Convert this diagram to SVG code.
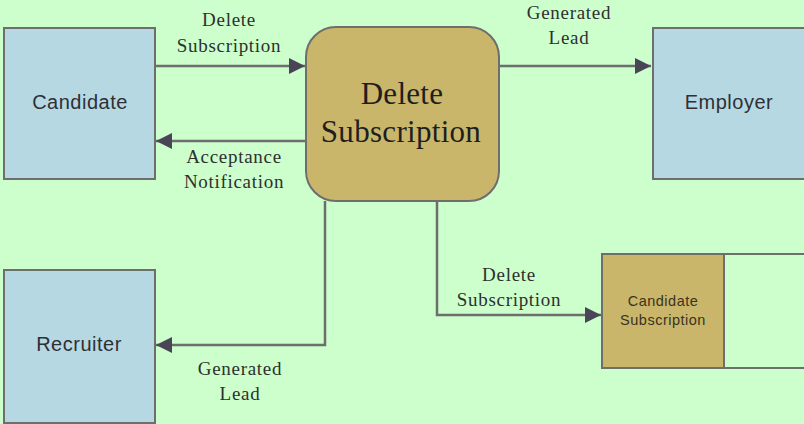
<svg xmlns="http://www.w3.org/2000/svg" width="804" height="424" viewBox="0 0 804 424">
<style>
.ext{fill:#b6d8e2;stroke:#6e6e6e;stroke-width:2}
.proc{fill:#c9b66a;stroke:#6e6e6e;stroke-width:2}
.ds{fill:none;stroke:#6e6e6e;stroke-width:2}
.ent{font-family:"Liberation Sans",Arial,sans-serif;font-size:20px;letter-spacing:0.5px;fill:#2f2f35;text-anchor:middle}
.lbl{font-family:"Liberation Serif","Times New Roman",serif;font-size:19px;letter-spacing:0.7px;fill:#2f2f2f;text-anchor:middle}
.big{font-family:"Liberation Serif","Times New Roman",serif;font-size:31px;letter-spacing:0.3px;fill:#1e1e1e;text-anchor:middle}
.small{font-family:"Liberation Sans",Arial,sans-serif;font-size:14.5px;letter-spacing:0.5px;fill:#3a3320;text-anchor:middle}
.flow{fill:none;stroke:#6e6e6e;stroke-width:2.5}
</style>
<defs>
<marker id="ah" viewBox="0 0 10 10" refX="10" refY="5" markerWidth="22" markerHeight="16" markerUnits="userSpaceOnUse" orient="auto">
<path d="M0,0 L10,5 L0,10 z" fill="#4a4556"/>
</marker>
</defs>
<rect width="804" height="424" fill="#ccffcc"/>
<g id="candidate"><rect class="ext" x="4" y="28" width="151" height="151"/><text class="ent" x="80" y="109">Candidate</text></g>
<g id="employer"><rect class="ext" x="653" y="28" width="152" height="151"/><text class="ent" x="729" y="109">Employer</text></g>
<g id="recruiter"><rect class="ext" x="4" y="270" width="151" height="153"/><text class="ent" x="79" y="351">Recruiter</text></g>
<g id="delete-subscription"><rect class="proc" x="306" y="27" width="193" height="174" rx="30" ry="30"/><text class="big" x="402" y="104">Delete</text><text class="big" x="401" y="142">Subscription</text></g>
<g id="candidate-subscription"><path class="ds" d="M805,254 H602 V368 H805"/><rect class="proc" x="602" y="254" width="122" height="114"/><text class="small" x="663" y="306">Candidate</text><text class="small" x="663" y="325">Subscription</text></g>
<g id="connectors">
<line class="flow" x1="155" y1="66" x2="305" y2="66" marker-end="url(#ah)"/>
<line class="flow" x1="306" y1="141" x2="156" y2="141" marker-end="url(#ah)"/>
<line class="flow" x1="499" y1="66" x2="651" y2="66" marker-end="url(#ah)"/>
<polyline class="flow" points="325,201 325,345 156,345" marker-end="url(#ah)"/>
<polyline class="flow" points="437,201 437,315 601,315" marker-end="url(#ah)"/>
</g>
<g id="labels">
<text class="lbl" x="229" y="26">Delete</text><text class="lbl" x="229" y="52">Subscription</text>
<text class="lbl" x="569" y="19">Generated</text><text class="lbl" x="569" y="44">Lead</text>
<text class="lbl" x="234" y="163">Acceptance</text><text class="lbl" x="234" y="188">Notification</text>
<text class="lbl" x="240" y="375">Generated</text><text class="lbl" x="240" y="400">Lead</text>
<text class="lbl" x="509" y="281">Delete</text><text class="lbl" x="509" y="306">Subscription</text>
</g>
</svg>
